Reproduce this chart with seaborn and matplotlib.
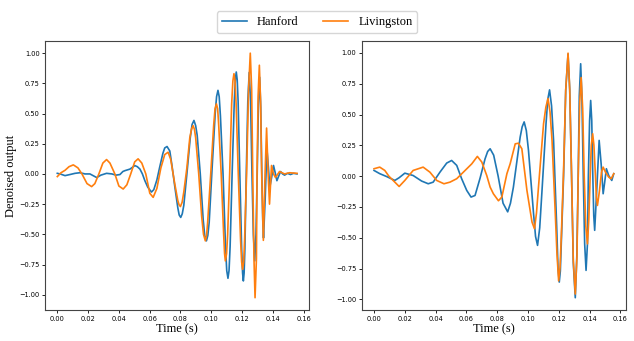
import matplotlib
matplotlib.use("Agg")
import matplotlib.pyplot as plt
import seaborn as sns

# ---- data (time in s, normalised output) ----
# left panel
left_t_hanford = [0.0000, 0.0018, 0.0050, 0.0082, 0.0115, 0.0147, 0.0180, 0.0212, 0.0256, 0.0283,
                  0.0320, 0.0355, 0.0381, 0.0407, 0.0426, 0.0439, 0.0472, 0.0504, 0.0520, 0.0537,
                  0.0553, 0.0569, 0.0588, 0.0612, 0.0627, 0.0647, 0.0666, 0.0686, 0.0698, 0.0713,
                  0.0731, 0.0744, 0.0763, 0.0783, 0.0792, 0.0802, 0.0812, 0.0822, 0.0842, 0.0864,
                  0.0876, 0.0888, 0.0899, 0.0909, 0.0929, 0.0948, 0.0958, 0.0969, 0.0978, 0.0987,
                  0.1006, 0.1026, 0.1035, 0.1044, 0.1052, 0.1060, 0.1077, 0.1093, 0.1101, 0.1109,
                  0.1116, 0.1123, 0.1136, 0.1150, 0.1157, 0.1163, 0.1169, 0.1175, 0.1186, 0.1198,
                  0.1204, 0.1209, 0.1214, 0.1219, 0.1228, 0.1238, 0.1247, 0.1256, 0.1265, 0.1274,
                  0.1283, 0.1291, 0.1299, 0.1307, 0.1315, 0.1322, 0.1329, 0.1335, 0.1340, 0.1351,
                  0.1362, 0.1372, 0.1381, 0.1394, 0.1405, 0.1416, 0.1427, 0.1438, 0.1451, 0.1464,
                  0.1477, 0.1496, 0.1515, 0.1535, 0.1558]
left_hanford = [0.005, 0.000, -0.014, -0.005, 0.005, 0.010, 0.000, 0.000, -0.030, -0.010,
                0.005, 0.000, -0.010, -0.005, 0.020, 0.027, 0.040, 0.069, 0.060, 0.040,
                0.000, -0.056, -0.110, -0.150, -0.130, -0.050, 0.060, 0.170, 0.215, 0.227,
                0.190, 0.080, -0.100, -0.280, -0.340, -0.360, -0.330, -0.260, 0.000, 0.300,
                0.410, 0.443, 0.400, 0.320, 0.000, -0.380, -0.510, -0.554, -0.510, -0.400,
                0.050, 0.500, 0.640, 0.692, 0.640, 0.480, 0.000, -0.600, -0.800, -0.864,
                -0.800, -0.600, 0.000, 0.600, 0.780, 0.844, 0.780, 0.600, 0.000, -0.620,
                -0.820, -0.886, -0.820, -0.620, 0.000, 0.600, 0.840, 0.600, 0.000, -0.500,
                -0.720, -0.500, 0.000, 0.580, 0.800, 0.550, 0.000, -0.380, -0.530, -0.200,
                0.210, 0.050, -0.110, -0.020, 0.070, 0.010, -0.056, -0.020, 0.020, 0.000,
                -0.010, 0.005, -0.005, 0.005, 0.000]

left_t_livingston = [0.0000, 0.0024, 0.0050, 0.0076, 0.0104, 0.0134, 0.0160, 0.0193, 0.0223, 0.0244,
                     0.0270, 0.0296, 0.0320, 0.0342, 0.0374, 0.0400, 0.0428, 0.0452, 0.0477, 0.0503,
                     0.0525, 0.0549, 0.0575, 0.0601, 0.0623, 0.0647, 0.0673, 0.0698, 0.0720, 0.0737,
                     0.0763, 0.0783, 0.0791, 0.0800, 0.0811, 0.0822, 0.0842, 0.0861, 0.0872, 0.0882,
                     0.0891, 0.0899, 0.0919, 0.0938, 0.0950, 0.0962, 0.0970, 0.0977, 0.0997, 0.1016,
                     0.1025, 0.1034, 0.1042, 0.1049, 0.1065, 0.1081, 0.1087, 0.1092, 0.1100, 0.1107,
                     0.1120, 0.1133, 0.1141, 0.1148, 0.1155, 0.1162, 0.1176, 0.1191, 0.1198, 0.1204,
                     0.1211, 0.1217, 0.1230, 0.1243, 0.1254, 0.1263, 0.1270, 0.1278, 0.1285, 0.1294,
                     0.1298, 0.1305, 0.1313, 0.1321, 0.1328, 0.1339, 0.1350, 0.1360, 0.1370, 0.1379,
                     0.1392, 0.1405, 0.1418, 0.1444, 0.1477, 0.1509, 0.1558]
left_livingston = [-0.022, 0.010, 0.030, 0.060, 0.075, 0.050, 0.000, -0.080, -0.105, -0.080,
                   0.000, 0.090, 0.119, 0.090, 0.000, -0.100, -0.125, -0.090, 0.000, 0.100,
                   0.125, 0.090, 0.000, -0.160, -0.194, -0.120, 0.050, 0.160, 0.180, 0.120,
                   -0.080, -0.220, -0.255, -0.270, -0.235, -0.150, 0.050, 0.300, 0.370, 0.400,
                   0.370, 0.300, 0.000, -0.350, -0.500, -0.554, -0.510, -0.400, 0.000, 0.400,
                   0.540, 0.580, 0.540, 0.400, 0.000, -0.500, -0.660, -0.720, -0.660, -0.500,
                   0.000, 0.580, 0.770, 0.830, 0.770, 0.580, 0.000, -0.550, -0.730, -0.790,
                   -0.730, -0.550, 0.000, 0.700, 1.000, 0.700, 0.000, -0.700, -1.025, -0.700,
                   0.000, 0.650, 0.900, 0.600, 0.000, -0.550, 0.000, 0.380, 0.000, -0.250,
                   0.070, 0.000, -0.030, 0.020, 0.000, 0.010, 0.005]

# right panel
right_t_hanford = [0.0000, 0.0037, 0.0081, 0.0135, 0.0163, 0.0200, 0.0254, 0.0309, 0.0352, 0.0384,
                   0.0428, 0.0472, 0.0504, 0.0537, 0.0569, 0.0602, 0.0630, 0.0656, 0.0689, 0.0721,
                   0.0738, 0.0754, 0.0777, 0.0806, 0.0838, 0.0868, 0.0886, 0.0905, 0.0949, 0.0962,
                   0.0975, 0.0989, 0.1003, 0.1036, 0.1049, 0.1062, 0.1076, 0.1091, 0.1117, 0.1128,
                   0.1140, 0.1153, 0.1166, 0.1186, 0.1195, 0.1203, 0.1210, 0.1216, 0.1231, 0.1245,
                   0.1260, 0.1271, 0.1283, 0.1294, 0.1307, 0.1317, 0.1326, 0.1333, 0.1342, 0.1350,
                   0.1359, 0.1368, 0.1377, 0.1386, 0.1392, 0.1400, 0.1407, 0.1414, 0.1420, 0.1427,
                   0.1433, 0.1447, 0.1462, 0.1475, 0.1488, 0.1498, 0.1509, 0.1524, 0.1544, 0.1557]
right_hanford = [0.046, 0.020, -0.003, -0.035, -0.013, 0.024, 0.005, -0.040, -0.062, -0.049,
                 0.032, 0.106, 0.127, 0.087, -0.021, -0.116, -0.170, -0.157, -0.015, 0.140,
                 0.200, 0.222, 0.170, 0.000, -0.220, -0.290, -0.220, -0.090, 0.316, 0.400,
                 0.440, 0.370, 0.210, -0.305, -0.490, -0.562, -0.420, -0.116, 0.425, 0.620,
                 0.700, 0.570, 0.290, -0.400, -0.750, -0.860, -0.770, -0.550, 0.000, 0.700,
                 0.990, 0.700, 0.000, -0.700, -0.987, -0.650, 0.000, 0.650, 0.912, 0.650,
                 0.000, -0.550, -0.765, -0.550, 0.000, 0.450, 0.614, 0.450, 0.050, -0.320,
                 -0.440, -0.100, 0.290, 0.100, -0.143, -0.050, 0.060, 0.005, -0.035, 0.020]

right_t_livingston = [0.0000, 0.0037, 0.0070, 0.0096, 0.0124, 0.0163, 0.0200, 0.0254, 0.0319, 0.0363,
                      0.0407, 0.0454, 0.0493, 0.0537, 0.0580, 0.0635, 0.0671, 0.0700, 0.0732, 0.0754,
                      0.0775, 0.0808, 0.0830, 0.0863, 0.0884, 0.0917, 0.0938, 0.0960, 0.0993, 0.1026,
                      0.1042, 0.1055, 0.1068, 0.1101, 0.1116, 0.1130, 0.1143, 0.1156, 0.1177, 0.1188,
                      0.1199, 0.1208, 0.1216, 0.1231, 0.1245, 0.1260, 0.1271, 0.1283, 0.1294, 0.1307,
                      0.1318, 0.1326, 0.1336, 0.1345, 0.1355, 0.1365, 0.1375, 0.1386, 0.1395, 0.1405,
                      0.1411, 0.1420, 0.1428, 0.1438, 0.1444, 0.1451, 0.1464, 0.1477, 0.1488, 0.1503,
                      0.1524, 0.1540, 0.1557]
right_livingston = [0.060, 0.073, 0.046, 0.000, -0.035, -0.084, -0.035, 0.046, 0.073, 0.032,
                    -0.035, -0.062, -0.049, -0.021, 0.032, 0.100, 0.160, 0.114, 0.005, -0.089,
                    -0.143, -0.200, -0.170, 0.020, 0.100, 0.262, 0.267, 0.222, -0.116, -0.373,
                    -0.427, -0.300, -0.089, 0.425, 0.560, 0.630, 0.520, 0.290, -0.300, -0.630,
                    -0.850, -0.740, -0.500, 0.050, 0.700, 0.998, 0.700, 0.000, -0.680, -0.957,
                    -0.650, 0.000, 0.600, 0.800, 0.550, 0.000, -0.400, -0.550, -0.350, 0.050,
                    0.250, 0.344, 0.250, 0.000, -0.170, -0.238, -0.120, 0.030, 0.073, 0.032,
                    -0.008, -0.021, 0.020]

detectors = ["Hanford", "Livingston"]
colors = ["#1f77b4", "#ff7f0e"]

serif = ["Liberation Serif", "DejaVu Serif"]

fig, axes = plt.subplots(1, 2, figsize=(6.34, 3.41), dpi=100)
fig.subplots_adjust(left=0.0715, right=0.987, bottom=0.091, top=0.88, wspace=0.201)

panels = [
    [(left_t_hanford, left_hanford), (left_t_livingston, left_livingston)],
    [(right_t_hanford, right_hanford), (right_t_livingston, right_livingston)],
]

for ax, series in zip(axes, panels):
    for (t, v), name, c in zip(series, detectors, colors):
        sns.lineplot(x=t, y=v, ax=ax, color=c, linewidth=1.2, label=name,
                     estimator=None, sort=False)
    ax.get_legend().remove()
    ax.set_xlabel("Time (s)", fontsize=9, family=serif, labelpad=1)
    ax.tick_params(labelsize=4.8, length=2, width=0.6, pad=2)
    ax.set_yticks([-1.0, -0.75, -0.5, -0.25, 0.0, 0.25, 0.5, 0.75, 1.0])
    for s in ax.spines.values():
        s.set_linewidth(0.8)
        s.set_color("#444444")

axes[0].set_ylabel("Denoised output", fontsize=9, family=serif, labelpad=2)

handles, labels = axes[0].get_legend_handles_labels()
fig.legend(handles, labels, loc="upper center", bbox_to_anchor=(0.5, 0.985), ncol=2,
           prop={"family": serif, "size": 9})

fig.savefig("out.png", dpi=100)
